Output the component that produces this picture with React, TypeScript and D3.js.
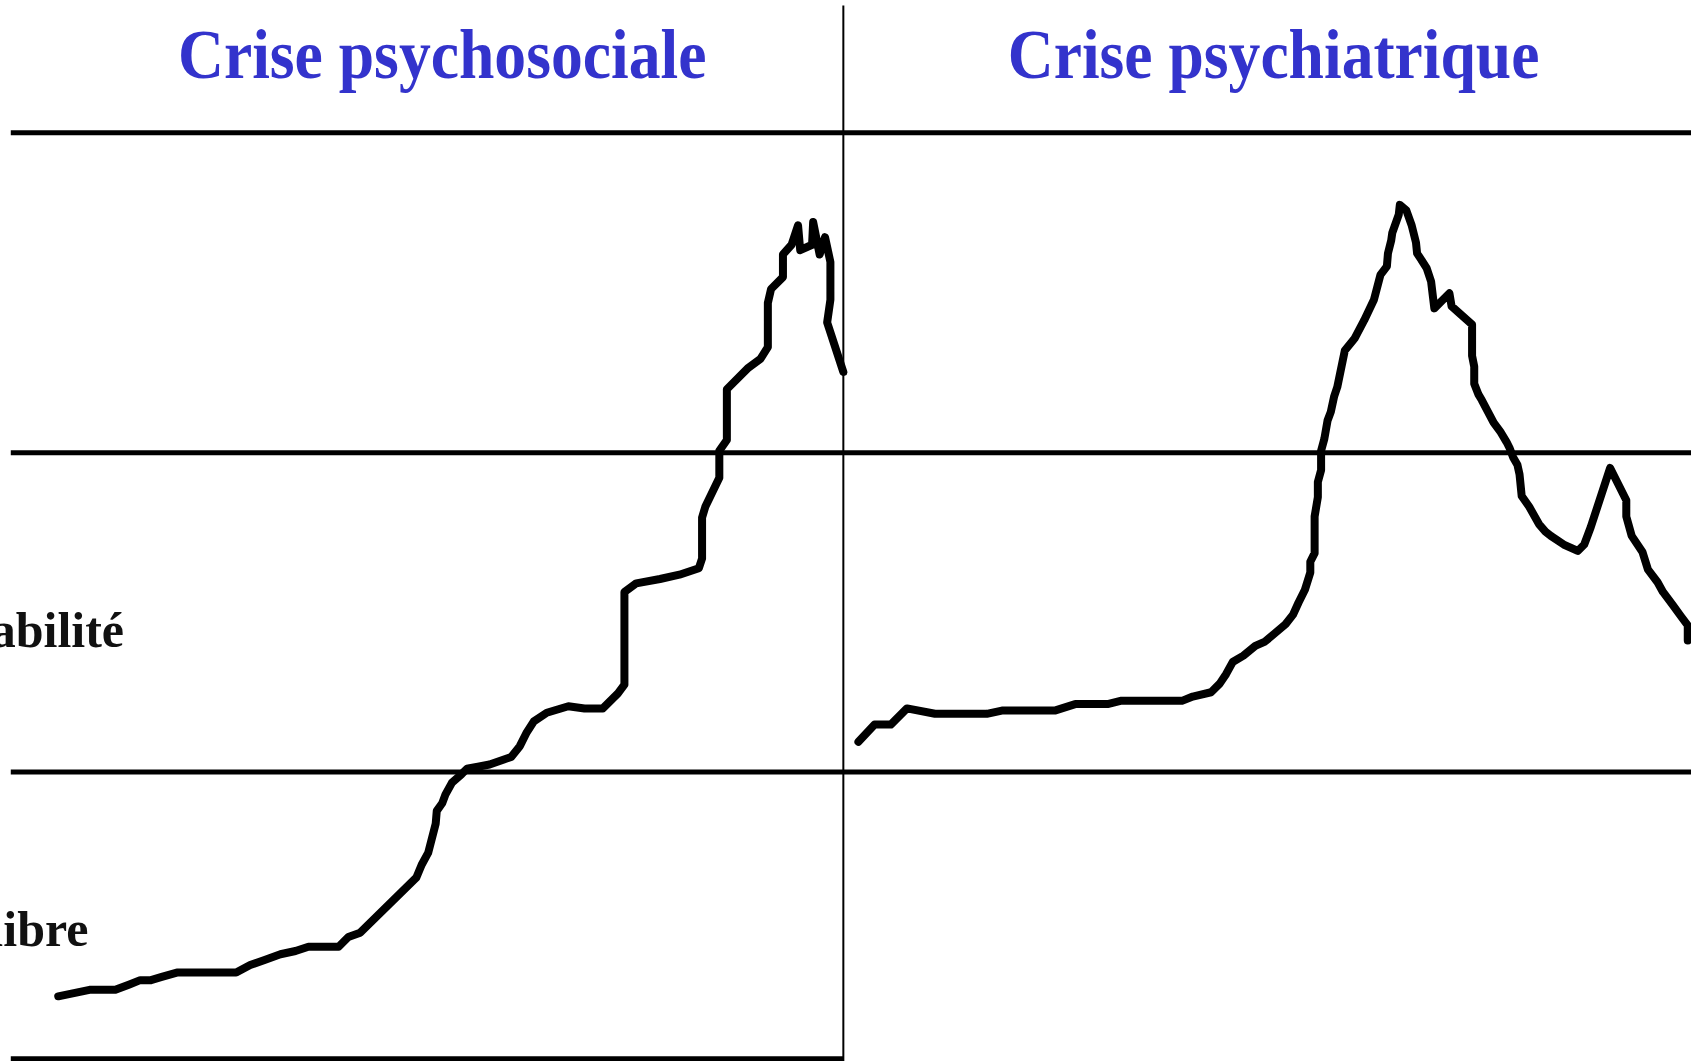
import React from "react";
import * as d3 from "d3";

// Time (t) and intensity (v)
const psychosocialT = [54, 83, 107, 120, 130, 140, 150, 164, 219, 232, 246, 260, 274, 286, 314, 323, 334, 386, 391, 397, 404, 405, 410, 413, 419, 428, 433, 454, 474, 482, 488, 495, 507, 527, 542, 559, 573, 579, 579, 590, 612, 630, 648, 651, 651, 654, 667, 667, 674, 674, 694, 705, 712, 712, 715, 726, 726, 734, 740, 742, 753, 754, 760, 765, 770, 770, 767, 782];
const psychosocialV = [60, 66, 66, 71, 75, 75, 78, 82, 82, 89, 94, 99, 102, 106, 106, 115, 119, 170, 182, 193, 220, 232, 239, 247, 258, 266, 271, 275, 282, 292, 304, 315, 323, 329, 327, 327, 341, 349, 435, 443, 447, 451, 457, 466, 504, 514, 541, 566, 576, 623, 643, 651, 662, 703, 716, 727, 748, 757, 775, 752, 757, 778, 748, 764, 741, 706, 685, 639];

const psychiatricT = [796, 811, 826, 841, 867, 915, 929, 978, 997, 1027, 1039, 1096, 1106, 1123, 1131, 1137, 1143, 1153, 1164, 1173, 1192, 1199, 1204, 1210, 1215, 1215, 1219, 1219, 1222, 1222, 1225, 1225, 1228, 1231, 1234, 1237, 1240, 1247, 1256, 1265, 1274, 1280, 1286, 1287, 1290, 1291, 1297, 1298, 1304, 1309, 1313, 1314, 1318, 1323, 1327, 1330, 1344, 1346, 1365, 1365, 1367, 1367, 1371, 1374, 1385, 1391, 1397, 1400, 1403, 1407, 1409, 1411, 1418, 1427, 1433, 1438, 1450, 1463, 1469, 1475, 1493, 1508, 1508, 1513, 1523, 1528, 1537, 1542, 1551, 1559, 1565, 1565];
const psychiatricV = [296, 312, 312, 327, 322, 322, 325, 325, 331, 331, 334, 334, 338, 342, 350, 359, 370, 376, 385, 389, 405, 414, 425, 437, 453, 463, 471, 505, 523, 537, 548, 566, 577, 594, 602, 616, 625, 659, 670, 687, 706, 729, 737, 749, 761, 768, 785, 794, 789, 775, 759, 749, 743, 735, 723, 698, 712, 700, 683, 654, 644, 628, 618, 613, 592, 584, 574, 568, 560, 553, 544, 524, 514, 498, 491, 487, 479, 473, 479, 495, 550, 520, 505, 487, 472, 456, 444, 435, 423, 412, 404, 390];

const thresholdLevels = [268, 564, 861];
const baselineLevel = 2;
const dividerT = 782;
const dividerTopV = 979;
const panelStartT = 10;

const titles = ["Crise psychosociale", "Crise psychiatrique"];
const titleCentersT = [410, 1181];
const titleV = 912;
const titleWidthsT = [490, 493];

const stateLabels = ["Vulnérabilité", "Equilibre"];
const stateLabelEndT = [115, 82];
const stateLabelV = [384, 107];

const W = 1691;
const H = 1061;

export default function App() {
  const x = d3.scaleLinear().domain([0, 1568]).range([0, W]);
  const y = d3.scaleLinear().domain([0, 984]).range([H, 0]);

  const makePath = (ts: number[], vs: number[]) =>
    d3
      .line<[number, number]>()
      .x((d) => x(d[0]))
      .y((d) => y(d[1]))(ts.map((t, i) => [t, vs[i]] as [number, number])) || "";

  const serif = "'Liberation Serif', 'Times New Roman', Times, serif";

  return (
    <svg
      width={W}
      height={H}
      style={{ position: "absolute", left: 0, top: 0, display: "block", background: "#fff" }}
    >
      <rect x={0} y={0} width={W} height={H} fill="#fff" />
      {thresholdLevels.map((lv, i) => (
        <line key={i} x1={x(panelStartT)} x2={W} y1={y(lv)} y2={y(lv)} stroke="#000" strokeWidth={5} />
      ))}
      <line
        x1={x(panelStartT)}
        x2={x(dividerT)}
        y1={y(baselineLevel)}
        y2={y(baselineLevel)}
        stroke="#000"
        strokeWidth={5}
      />
      <line x1={x(dividerT)} x2={x(dividerT)} y1={y(dividerTopV)} y2={H} stroke="#000" strokeWidth={2} />

      {titles.map((t, i) => (
        <text
          key={t}
          x={x(titleCentersT[i])}
          y={y(titleV)}
          textAnchor="middle"
          fontFamily={serif}
          fontWeight="bold"
          fontSize={70}
          fill="#3333cc"
          textLength={x(titleWidthsT[i])}
          lengthAdjust="spacingAndGlyphs"
        >
          {t}
        </text>
      ))}

      {stateLabels.map((t, i) => (
        <text
          key={t}
          x={x(stateLabelEndT[i])}
          y={y(stateLabelV[i])}
          textAnchor="end"
          fontFamily={serif}
          fontWeight="bold"
          fontSize={50}
          fill="#111"
        >
          {t}
        </text>
      ))}

      <path
        d={makePath(psychosocialT, psychosocialV)}
        fill="none"
        stroke="#000"
        strokeWidth={8}
        strokeLinejoin="round"
        strokeLinecap="round"
      />
      <path
        d={makePath(psychiatricT, psychiatricV)}
        fill="none"
        stroke="#000"
        strokeWidth={8}
        strokeLinejoin="round"
        strokeLinecap="round"
      />
    </svg>
  );
}
